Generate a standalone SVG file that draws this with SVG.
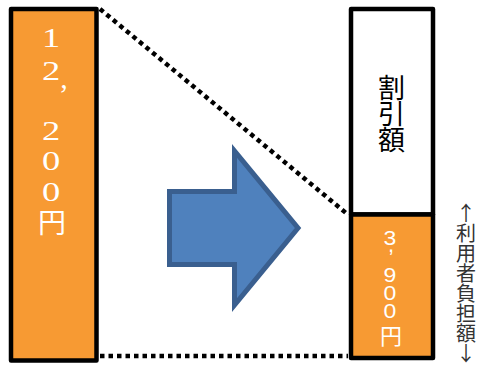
<svg xmlns="http://www.w3.org/2000/svg" width="479" height="368" viewBox="0 0 479 368">
<style>
.box{stroke:#000;stroke-width:4.5;stroke-linejoin:round}
.org{fill:#F79A33}
.dot{fill:none;stroke:#000;stroke-width:4.5;stroke-dasharray:4.5 4}
.ser{font-family:"Liberation Serif",serif;fill:#fff;text-anchor:middle}
.san{font-family:"Liberation Sans",sans-serif;fill:#fff;text-anchor:middle}
.cjk{font-family:"Noto Sans CJK JP",sans-serif;text-anchor:middle}
</style>
<rect width="479" height="368" fill="#fff"/>
<g id="connectors">
<line class="dot" x1="100" y1="9" x2="346" y2="213"/>
<line class="dot" x1="100" y1="356" x2="348" y2="356"/>
</g>
<g id="total">
<rect class="box org" x="11" y="9" width="85.5" height="351.5"/>
<text class="ser" font-size="27" transform="translate(51,47) scale(1.35,1)">1</text>
<text class="ser" font-size="27" transform="translate(51,80) scale(1.35,1)">2</text>
<text class="ser" font-size="30" x="64" y="88">,</text>
<text class="ser" font-size="27" transform="translate(51,140) scale(1.35,1)">2</text>
<text class="ser" font-size="27" transform="translate(51,170) scale(1.35,1)">0</text>
<text class="ser" font-size="27" transform="translate(51,201) scale(1.35,1)">0</text>
<text class="cjk" font-size="28" x="52" y="233" fill="#fff">円</text>
</g>
<g id="arrow">
<path d="M169.5,191.5 H234.5 V151 L298,228 L234.5,305 V264.5 H169.5 Z" fill="#4F81BD" stroke="#3A5F8F" stroke-width="5" stroke-linejoin="miter"/>
</g>
<g id="result">
<rect class="box" x="351" y="9" width="82" height="205.5" fill="#fff"/>
<rect class="box org" x="351" y="214.5" width="82" height="143.5"/>
<text font-family="'Noto Sans CJK JP',sans-serif" font-size="27" fill="#000" x="391.5" y="74" writing-mode="vertical-rl" style="letter-spacing:-1px">割引額</text>
<text class="san" font-size="20" transform="translate(390,245) scale(1.15,1)">3</text>
<text class="san" font-size="22" x="391" y="252">,</text>
<text class="san" font-size="20" transform="translate(390,282) scale(1.15,1)">9</text>
<text class="san" font-size="20" transform="translate(390,300) scale(1.15,1)">0</text>
<text class="san" font-size="20" transform="translate(390,318) scale(1.15,1)">0</text>
<text class="cjk" font-size="22" x="391" y="344" fill="#fff">円</text>
</g>
<g id="label">
<text font-family="'Noto Sans CJK JP',sans-serif" font-size="20" fill="#333" x="466" y="203" writing-mode="vertical-rl" style="text-orientation:upright">↑利用者負担額↓</text>
</g>
</svg>
